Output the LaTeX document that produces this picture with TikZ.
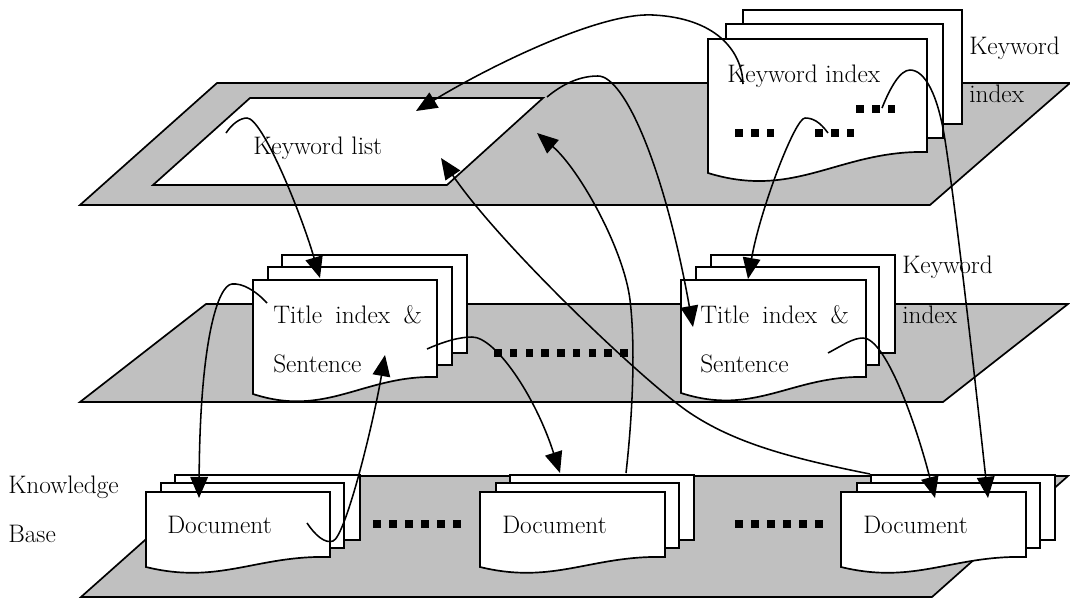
\documentclass[tikz,border=0pt]{standalone}
\usetikzlibrary{arrows.meta}
\definecolor{layergray}{RGB}{192,192,192}
\newcommand\lblfont{\fontsize{18}{21}\selectfont}
% front sheet of a stack: x0, top, x1, bottom right, bottom left, dip of the wavy edge
\newcommand\frontpage[6]{%
  \draw[page] (#1,#2) -- (#3,#2) -- (#3,#4)
    .. controls ({#1+0.6*(#3-#1)},{#4-2}) and ({#1+0.4*(#3-#1)},{#5+3*#6}) .. (#1,#5) -- cycle;}
% row of square dots: first x, centre y, count, pitch
\newcommand\sqrow[4]{%
  \foreach \i in {1,...,#3} \fill ({#1+(\i-1)*#4},{#2-3.85}) rectangle ++(7.7,7.7);}
\tikzset{
  layer/.style={fill=layergray, draw=black, line width=1.2pt, line join=miter},
  page/.style={fill=white, draw=black, line width=1.2pt, line join=miter},
  link/.style={draw=black, line width=1.1pt, -{Triangle[length=15pt,width=12.5pt]}},
  lbl/.style={inner sep=0pt, anchor=base west, font=\lblfont},
}
\begin{document}
\begin{tikzpicture}[x=0.025cm, y=-0.025cm]
\useasboundingbox (0,0) rectangle (1070,600);

% ---------- planes ----------
\draw[layer] (80,205) -- (217,83) -- (1070,83) -- (930,205) -- cycle;
\draw[page] (153,185) -- (250,98) -- (543,98) -- (447,185) -- cycle;
\draw[layer] (80,402) -- (206,304) -- (1068,304) -- (943,402) -- cycle;
\draw[layer] (81,597) -- (217,476) -- (1068,476) -- (932,597) -- cycle;

% ---------- keyword index stack ----------
\draw[page] (743,10) rectangle (962,124);
\draw[page] (726,24) rectangle (943,138);
\frontpage{708}{39}{927}{152}{173}{9}

% ---------- title index stacks ----------
\draw[page] (282,255) rectangle (467,353);
\draw[page] (268,267) rectangle (452,365);
\frontpage{253}{280}{437}{377}{394}{8}
\draw[page] (711,255) rectangle (895,353);
\draw[page] (696,267) rectangle (879,365);
\frontpage{681}{280}{866}{377}{393}{8}

% ---------- document stacks ----------
\draw[page] (175,475) rectangle (360,540);
\draw[page] (161,483) rectangle (344,548);
\frontpage{146}{492}{330}{557}{567}{6}
\draw[page] (510,475) rectangle (694,540);
\draw[page] (496,483) rectangle (679,548);
\frontpage{480}{492}{665}{557}{567}{6}
\draw[page] (871,475) rectangle (1055,540);
\draw[page] (857,483) rectangle (1040,548);
\frontpage{841}{492}{1026}{557}{567}{6}

% ---------- dots ----------
\sqrow{735}{133}{3}{15.8}
\sqrow{815}{133}{3}{15.8}
\sqrow{856}{109}{3}{15.8}
\sqrow{494}{353}{9}{15.75}
\sqrow{373}{524}{6}{16}
\sqrow{735}{524}{6}{16}

% ---------- labels ----------
\node[lbl] (kwlist) at (253,154) {Keyword list};
\node[lbl] (kwindex) at (727,82) {Keyword index};
\node[lbl] (kwtop1) at (969,54) {Keyword};
\node[lbl] (kwtop2) at (969,102) {index};
\node[lbl] (tiL) at (273,323) {\makebox[105.6pt][s]{Title index \&}};
\node[lbl] (seL) at (273,372) {Sentence};
\node[lbl] (tiR) at (700,323) {\makebox[105.6pt][s]{Title index \&}};
\node[lbl] (seR) at (700,372) {Sentence};
\node[lbl] (kwmid1) at (902,273) {Keyword};
\node[lbl] (kwmid2) at (902,323) {index};
\node[lbl] (docL) at (167,533) {Document};
\node[lbl] (docM) at (502,533) {Document};
\node[lbl] (docR) at (863,533) {Document};
\node[lbl] (kb1) at (8,493) {Knowledge};
\node[lbl] (kb2) at (8,542) {Base};

% ---------- connector ends ----------
\coordinate (kiK) at (743,84);
\coordinate (kiD1) at (828,133);
\coordinate (kiD2) at (882,108);
\coordinate (klS) at (226,133);
\coordinate (klC) at (547,97);
\coordinate (klA1) at (416,111);
\coordinate (klA2) at (537,133);
\coordinate (klA3) at (441,158);
\coordinate (tlTop) at (320,278);
\coordinate (tlL) at (267,303);
\coordinate (tlR) at (427,349);
\coordinate (tlB) at (385,355);
\coordinate (trTop) at (748,279);
\coordinate (trL) at (693,327);
\coordinate (trR) at (828,353);
\coordinate (dlTop) at (199,498);
\coordinate (dlR) at (307,523);
\coordinate (dmTop) at (560,473);
\coordinate (dmS) at (626,473);
\coordinate (drS) at (870,474);
\coordinate (drA1) at (935,498);
\coordinate (drA2) at (988,498);

% ---------- connectors ----------
% keyword index -> keyword list
\draw[link] (kiK) .. controls (742,50) and (715,18) .. (653,15)
  .. controls (600,12) and (490,66) .. (klA1);
% keyword list -> left title index
\draw[link] (klS) .. controls (232,124) and (240,118) .. (247,118)
  .. controls (262,118) and (300,210) .. (tlTop);
% keyword index -> right title index
\draw[link] (kiD1) .. controls (820,122) and (813,118) .. (805,118)
  .. controls (795,118) and (760,210) .. (trTop);
% keyword index -> right document
\draw[link] (kiD2) .. controls (890,88) and (900,70) .. (910,70)
  .. controls (925,70) and (938,95) .. (945,140)
  .. controls (957,217) and (975,380) .. (drA2);
% left title index -> left document
\draw[link] (tlL) .. controls (255,290) and (242,283) .. (232,284)
  .. controls (218,285) and (200,340) .. (dlTop);
% left document -> left title index
\draw[link] (dlR) .. controls (315,535) and (325,544) .. (333,541)
  .. controls (345,537) and (372,430) .. (tlB);
% left title index -> middle document
\draw[link] (tlR) .. controls (445,341) and (460,337) .. (472,337)
  .. controls (495,337) and (535,395) .. (dmTop);
% middle document -> keyword list
\draw[link] (dmS) .. controls (632,420) and (636,350) .. (630,300)
  .. controls (624,250) and (580,170) .. (klA2);
% right document -> keyword list
\draw[link] (drS) .. controls (790,458) and (735,443) .. (690,413)
  .. controls (645,383) and (500,245) .. (klA3);
% keyword list -> right title index
\draw[link] (klC) .. controls (565,82) and (582,76) .. (598,76)
  .. controls (625,76) and (665,170) .. (trL);
% right title index -> right document
\draw[link] (trR) .. controls (843,345) and (853,338) .. (863,338)
  .. controls (885,338) and (915,420) .. (drA1);
\end{tikzpicture}
\end{document}
